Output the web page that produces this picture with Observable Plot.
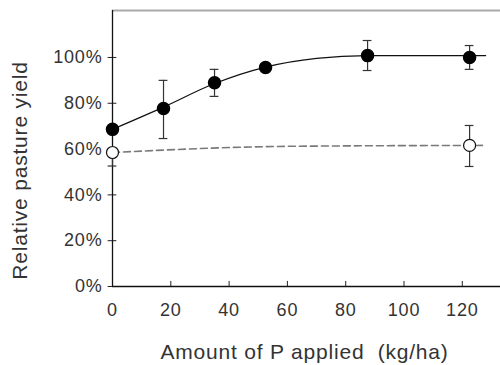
<!DOCTYPE html>
<html><head><meta charset="utf-8">
<script src="https://cdn.jsdelivr.net/npm/d3@7"></script>
<script src="https://cdn.jsdelivr.net/npm/@observablehq/plot@0.6"></script>
<style>body{margin:0;background:#fff} svg text{letter-spacing:0.8px}</style>
</head><body><div id="chart"></div>
<script>
// Applied P (kg/ha)
const pRate = [0, 17.5, 35, 52.5, 87.5, 122.5];
// Relative yield (%) - fertilised series (filled)
const yieldFilled = [68.6, 77.7, 89, 95.6, 100.8, 100];
const errFilledLo = [null, 64.6, 83, null, 94.3, 94.8];
const errFilledHi = [null, 90, 94.8, null, 107.4, 105.2];
// Open series
const pRateOpen = [0, 122.5];
const yieldOpen = [58.5, 61.6];
const errOpenLo = [52.6, 52.4];
const errOpenHi = [58.5, 70.3];
// fitted response curves
const fitX = [0, 17.5, 35, 52.5, 70, 87.5, 128];
const fitY = [68.6, 78.3, 88.6, 95.8, 99.6, 100.8, 100.8];
const dashX = [0, 60, 128];
const dashY = [58.5, 61.2, 61.6];
const yTicks = [0, 20, 40, 60, 80, 100];
const xTicks = [0, 20, 40, 60, 80, 100, 120];

const filled = pRate.map((x, i) => ({x, y: yieldFilled[i], lo: errFilledLo[i], hi: errFilledHi[i]}));
const open = pRateOpen.map((x, i) => ({x, y: yieldOpen[i], lo: errOpenLo[i], hi: errOpenHi[i]}));
const fit = fitX.map((x, i) => ({x, y: fitY[i]}));
const dash = dashX.map((x, i) => ({x, y: dashY[i]}));
const errs = [...filled, ...open].filter(d => d.lo != null);
const cap = 1.5;

const font = "'Liberation Sans', Arial, sans-serif";
const chart = Plot.plot({
  width: 500, height: 365,
  marginLeft: 112, marginRight: 0, marginTop: 10, marginBottom: 79,
  style: {fontFamily: font, fontSize: "18px", color: "#333", background: "#fff"},
  x: {domain: [0, 133.1]},
  y: {domain: [0, 120.5]},
  marks: [
    Plot.ruleY([120.5], {stroke: "#aaa", strokeWidth: 2}),
    Plot.axisY({ticks: yTicks, tickFormat: d => d + "%", tickSize: 0, tickPadding: 10, label: null, fontSize: 18}),
    Plot.axisX({ticks: xTicks, tickSize: 0, tickPadding: 17, label: null, fontSize: 18}),
    Plot.ruleY(yTicks, {x1: -1.5, x2: 1.5, stroke: "#222"}),
    Plot.ruleX(xTicks, {y1: 0, y2: 2.2, stroke: "#222"}),
    Plot.ruleX([0], {stroke: "#111", strokeWidth: 1.3}),
    Plot.ruleY([0], {stroke: "#111", strokeWidth: 1.3}),
    Plot.line(dash, {x: "x", y: "y", stroke: "#7a7a7a", strokeWidth: 1.6, strokeDasharray: "7,4", curve: "monotone-x"}),
    Plot.line(fit, {x: "x", y: "y", stroke: "#111", strokeWidth: 1.2, curve: "monotone-x"}),
    Plot.ruleX(errs, {x: "x", y1: "lo", y2: "hi", stroke: "#333", strokeWidth: 1.2}),
    Plot.ruleY(errs, {y: "lo", x1: d => d.x - cap, x2: d => d.x + cap, stroke: "#333", strokeWidth: 1.2}),
    Plot.ruleY(errs, {y: "hi", x1: d => d.x - cap, x2: d => d.x + cap, stroke: "#333", strokeWidth: 1.2}),
    Plot.dot(open, {x: "x", y: "y", r: 6, fill: "#fff", stroke: "#111", strokeWidth: 1.2}),
    Plot.dot(filled, {x: "x", y: "y", r: 6, fill: "#000", stroke: "#000"}),
    Plot.text(["Relative pasture yield"], {frameAnchor: "left", textAnchor: "middle", lineAnchor: "middle", rotate: -90, dx: -92, dy: 22, fontSize: 21, fill: "#333"}),
    Plot.text(["Amount of P applied  (kg/ha)"], {frameAnchor: "bottom", textAnchor: "middle", lineAnchor: "middle", dx: -2, dy: 66, fontSize: 21, fill: "#333"})
  ]
});
document.getElementById("chart").appendChild(chart);
</script>
</body></html>
